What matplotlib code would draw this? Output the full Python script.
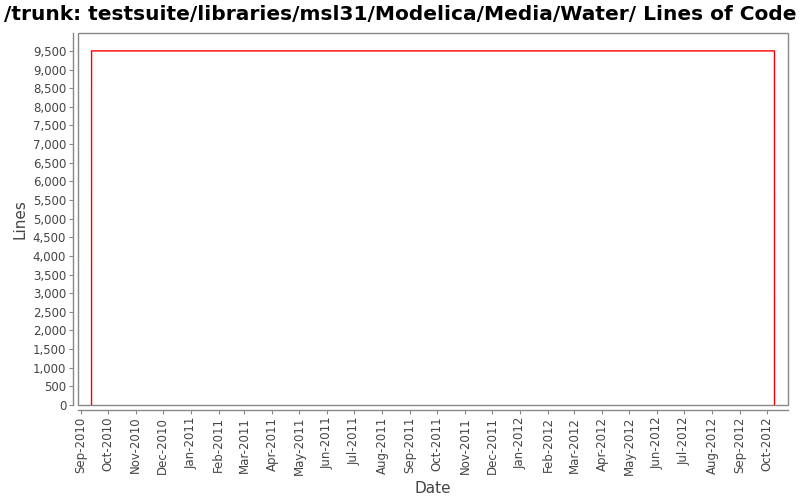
import matplotlib
matplotlib.use("Agg")
import matplotlib.pyplot as plt
import matplotlib.dates as mdates
import matplotlib.ticker as mticker
import matplotlib.patches as mpatches
import datetime as dt

# Data
dates = [dt.datetime(2010, 9, 13), dt.datetime(2010, 9, 13, 1), dt.datetime(2012, 10, 9), dt.datetime(2012, 10, 9, 1)]
lines = [0, 9500, 9500, 0]
month_ticks = [dt.datetime(2010 + (8 + i) // 12, (8 + i) % 12 + 1, 1) for i in range(26)]
yticks = list(range(0, 10000, 500))

fig = plt.figure(figsize=(8, 5), dpi=100)
ax = fig.add_axes([78/800, 95/500, 710/800, 372/500])

ax.plot(dates, lines, color="#ff0000", lw=1.0)

ax.set_xlim(dt.datetime(2010, 8, 29), dt.datetime(2012, 10, 24))
ax.set_ylim(0, 9980)
ax.set_xticks(month_ticks)
ax.xaxis.set_major_formatter(mdates.DateFormatter("%b-%Y"))
ax.set_yticks(yticks)
ax.yaxis.set_major_formatter(mticker.FuncFormatter(lambda v, p: f"{int(v):,}"))
ax.tick_params(axis="x", labelrotation=90)
ax.tick_params(axis="both", labelsize=8.5, labelcolor="#444444", color="#888888",
               length=3, width=0.8, pad=2)

for name in ("top", "right"):
    ax.spines[name].set_visible(False)
for name in ("left", "bottom"):
    ax.spines[name].set_color("#888888")
    ax.spines[name].set_linewidth(1.0)
    ax.spines[name].set_position(("outward", 3.5))

frame = mpatches.Rectangle((0, 0), 1, 1, transform=ax.transAxes, fill=False,
                           edgecolor="#888888", lw=1.0, clip_on=False)
ax.add_patch(frame)

ax.set_xlabel("Date", fontsize=11, color="#444444")
ax.set_ylabel("Lines", fontsize=11, color="#444444")

fig.text(0.5, 0.97, "/trunk: testsuite/libraries/msl31/Modelica/Media/Water/ Lines of Code",
         ha="center", va="center", fontsize=14.5, fontweight="bold",
         family=["DejaVu Sans"])

fig.savefig("out.png", dpi=100)
